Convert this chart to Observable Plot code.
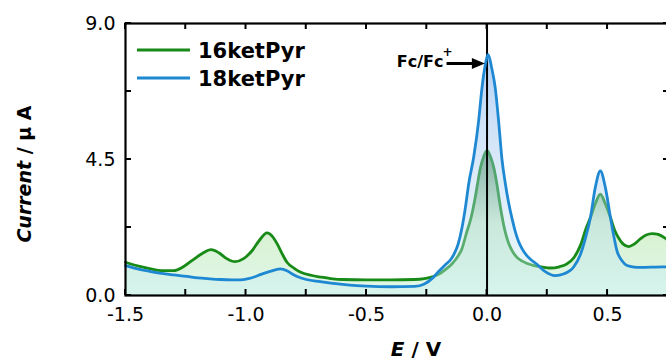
<!DOCTYPE html>
<html><head><meta charset="utf-8">
<script src="https://cdn.jsdelivr.net/npm/d3@7"></script>
<script src="https://cdn.jsdelivr.net/npm/@observablehq/plot@0.6"></script>
<style>
html,body{margin:0;padding:0;background:#fff;overflow:hidden}
#chart{width:666px;height:360px;overflow:hidden;position:relative}
#chart svg{max-width:none !important}
</style></head><body><div id="chart"></div>
<script>
const seriesNames = ["16ketPyr", "18ketPyr"];
const seriesColors = ["#178a17", "#1e88d2"];

const E16 = [-1.50,-1.45,-1.40,-1.35,-1.30,-1.26,-1.22,-1.18,-1.145,-1.11,-1.08,-1.045,-1.01,-0.975,-0.945,-0.913,-0.89,-0.87,-0.85,-0.83,-0.80,-0.775,-0.73,-0.69,-0.64,-0.60,-0.50,-0.40,-0.30,-0.26,-0.223,-0.195,-0.169,-0.145,-0.119,-0.104,-0.086,-0.066,-0.05,-0.041,-0.028,-0.014,0.000,0.014,0.028,0.041,0.052,0.062,0.072,0.081,0.09,0.105,0.123,0.15,0.19,0.23,0.261,0.30,0.33,0.36,0.387,0.41,0.429,0.45,0.47,0.49,0.512,0.53,0.546,0.565,0.588,0.61,0.636,0.66,0.685,0.71,0.744,0.757];
const I16 = [1.10,0.98,0.89,0.82,0.82,0.95,1.18,1.40,1.52,1.40,1.22,1.12,1.22,1.48,1.82,2.07,1.95,1.70,1.38,1.10,0.90,0.78,0.67,0.61,0.55,0.53,0.52,0.52,0.53,0.56,0.63,0.73,0.88,1.05,1.32,1.55,2.05,2.58,3.20,3.62,4.20,4.60,4.80,4.60,4.23,3.68,3.10,2.62,2.22,1.94,1.72,1.47,1.27,1.12,1.00,0.94,0.91,0.95,1.04,1.25,1.65,2.20,2.58,3.05,3.35,3.05,2.58,2.15,1.90,1.70,1.62,1.70,1.87,2.00,2.05,2.02,1.87,1.80];

const E18 = [-1.50,-1.45,-1.40,-1.35,-1.30,-1.245,-1.20,-1.15,-1.107,-1.06,-1.024,-0.99,-0.96,-0.941,-0.90,-0.858,-0.83,-0.81,-0.788,-0.75,-0.692,-0.64,-0.60,-0.50,-0.40,-0.30,-0.26,-0.223,-0.20,-0.173,-0.15,-0.135,-0.12,-0.105,-0.09,-0.076,-0.055,-0.035,-0.021,-0.008,0.005,0.02,0.034,0.048,0.062,0.076,0.09,0.105,0.117,0.13,0.145,0.165,0.18,0.206,0.24,0.282,0.32,0.36,0.387,0.41,0.429,0.449,0.47,0.491,0.512,0.525,0.539,0.56,0.581,0.61,0.636,0.70,0.757];
const I18 = [0.99,0.88,0.80,0.73,0.68,0.63,0.58,0.55,0.53,0.52,0.52,0.56,0.63,0.69,0.80,0.88,0.82,0.72,0.63,0.53,0.46,0.40,0.37,0.31,0.29,0.30,0.38,0.60,0.80,1.02,1.20,1.40,1.70,2.20,2.90,3.70,4.60,5.77,6.87,7.60,7.97,7.50,6.87,5.77,4.50,3.70,3.05,2.50,2.12,1.80,1.55,1.32,1.20,1.04,0.80,0.66,0.72,0.95,1.35,1.95,2.58,3.57,4.12,3.57,2.58,2.00,1.48,1.15,0.99,0.94,0.93,0.94,0.95];

const xMinorTicks = [-1.5,-1.25,-1,-0.75,-0.5,-0.25,0,0.25,0.5,0.75];
const xLabelTicks = [-1.5,-1,-0.5,0,0.5];
const yMinorTicks = [0,2.25,4.5,6.75,9];
const yLabelTicks = [0,4.5,9];
const refLine = [0];
const annotationText = "Fc/Fc";
const annotationSup = "+";
const annotationTip = [-0.007, 7.66];
const annotationTailX = -0.166;

const d16 = E16.map((e, i) => ({E: e, I: I16[i]}));
const d18 = E18.map((e, i) => ({E: e, I: I18[i]}));
const fmt = d => d.toFixed(1);

const plot = Plot.plot({
  width: 676, height: 360,
  marginLeft: 125, marginRight: 7, marginTop: 23, marginBottom: 65,
  style: {fontFamily: "'DejaVu Sans', sans-serif", fontSize: "19px", color: "#000", background: "#fff", maxWidth: "none"},
  x: {domain: [-1.5, 0.757], label: null},
  y: {domain: [0, 9], label: null},
  marks: [
    Plot.areaY(d16, {x: "E", y: "I", fill: "url(#grad16)", curve: "monotone-x"}),
    Plot.lineY(d16, {x: "E", y: "I", stroke: seriesColors[0], strokeWidth: 2.8, curve: "monotone-x"}),
    Plot.areaY(d18, {x: "E", y: "I", fill: "url(#grad18)", curve: "monotone-x"}),
    Plot.ruleX(refLine, {stroke: "#000", strokeWidth: 2}),
    Plot.lineY(d18, {x: "E", y: "I", stroke: seriesColors[1], strokeWidth: 2.8, curve: "monotone-x"}),
    Plot.frame({stroke: "#000", strokeWidth: 2.2}),
    Plot.axisX({anchor: "bottom", ticks: xLabelTicks, tickSize: 0, tickPadding: 12, tickFormat: fmt, fontSize: 19, label: null}),
    Plot.axisY({anchor: "left", ticks: yLabelTicks, tickSize: 0, tickPadding: 10, tickFormat: fmt, fontSize: 19, label: null})
  ]
});

document.getElementById("chart").appendChild(plot);
const svg = d3.select(plot);
const defs = svg.insert("defs", ":first-child");
const g16 = defs.append("linearGradient").attr("id", "grad16").attr("x1", 0).attr("y1", 0).attr("x2", 0).attr("y2", 1);
g16.append("stop").attr("offset", 0).attr("stop-color", "rgb(110,160,115)");
g16.append("stop").attr("offset", 0.5).attr("stop-color", "rgb(215,240,205)");
g16.append("stop").attr("offset", 1).attr("stop-color", "rgb(225,248,235)");
const g18 = defs.append("linearGradient").attr("id", "grad18").attr("x1", 0).attr("y1", 0).attr("x2", 0).attr("y2", 1);
g18.append("stop").attr("offset", 0).attr("stop-color", "rgb(120,170,235)").attr("stop-opacity", 0.55);
g18.append("stop").attr("offset", 0.5).attr("stop-color", "rgb(170,205,240)").attr("stop-opacity", 0.4);
g18.append("stop").attr("offset", 1).attr("stop-color", "rgb(200,240,240)").attr("stop-opacity", 0.4);

const sx = plot.scale("x"), sy = plot.scale("y");
const [xl, xr] = sx.range, [yb, ytp] = sy.range;

// inward ticks on all four sides, placed through the scales
const tk = svg.append("g").attr("stroke", "#000").attr("stroke-width", 2);
const TL = 6;
xMinorTicks.forEach(v => {
  const px = sx.apply(v);
  tk.append("line").attr("x1", px).attr("x2", px).attr("y1", yb).attr("y2", yb - TL);
  tk.append("line").attr("x1", px).attr("x2", px).attr("y1", ytp).attr("y2", ytp + TL);
});
yMinorTicks.forEach(v => {
  const py = sy.apply(v);
  tk.append("line").attr("x1", xl).attr("x2", xl + TL).attr("y1", py).attr("y2", py);
  tk.append("line").attr("x1", xr).attr("x2", xr - TL).attr("y1", py).attr("y2", py);
});

const tipX = sx.apply(annotationTip[0]), ay = sy.apply(annotationTip[1]), tailX = sx.apply(annotationTailX);
const ann = svg.append("g").attr("font-family", "'DejaVu Sans', sans-serif").attr("font-weight", "bold");
ann.append("line").attr("x1", tailX).attr("x2", tipX - 10).attr("y1", ay).attr("y2", ay).attr("stroke", "#000").attr("stroke-width", 3);
ann.append("path").attr("d", `M${tipX - 13},${ay - 5.5}L${tipX},${ay}L${tipX - 13},${ay + 5.5}Z`).attr("fill", "#000");
ann.append("text").attr("x", tailX - 3).attr("y", ay + 4).attr("text-anchor", "end").attr("font-size", 16).text(annotationText);
ann.append("text").attr("x", tailX + 1).attr("y", ay - 7).attr("text-anchor", "middle").attr("font-size", 12).text(annotationSup);

// legend
const leg = svg.append("g").attr("font-family", "'DejaVu Sans', sans-serif").attr("font-weight", "bold").attr("font-size", 21).attr("text-anchor", "start");
seriesNames.forEach((name, i) => {
  const y = 50 + i * 28;
  leg.append("line").attr("x1", 137).attr("x2", 190).attr("y1", y).attr("y2", y).attr("stroke", seriesColors[i]).attr("stroke-width", 3);
  leg.append("text").attr("x", 198).attr("y", y + 7.5).text(name);
});

// axis titles
const xt = svg.append("text").attr("x", 416).attr("y", 356).attr("text-anchor", "middle")
  .attr("font-family", "'DejaVu Sans', sans-serif").attr("font-weight", "bold").attr("font-size", 20);
xt.append("tspan").attr("font-style", "italic").text("E");
xt.append("tspan").text(" / V");
const yt = svg.append("text").attr("transform", "translate(31,174) rotate(-90)").attr("text-anchor", "middle")
  .attr("font-family", "'DejaVu Sans', sans-serif").attr("font-weight", "bold").attr("font-size", 19);
yt.append("tspan").attr("font-style", "italic").text("Current");
yt.append("tspan").text(" / μ A");
</script></body></html>
